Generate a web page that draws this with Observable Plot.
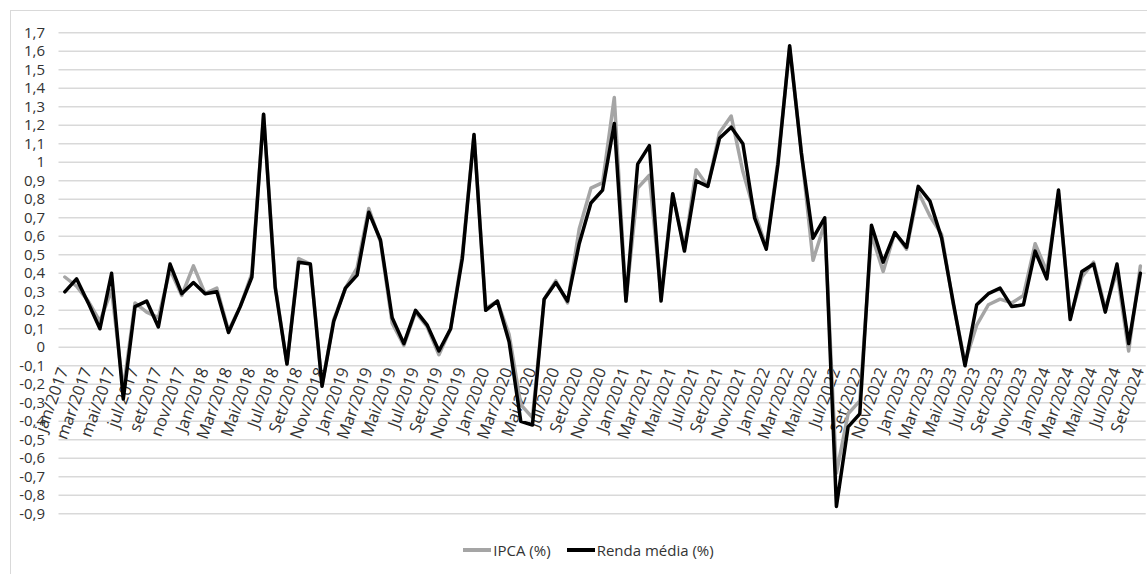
<!DOCTYPE html>
<html lang="pt-BR">
<head>
<meta charset="utf-8">
<script src="https://cdn.jsdelivr.net/npm/d3@7"></script>
<script src="https://cdn.jsdelivr.net/npm/@observablehq/plot@0.6"></script>
<style>
  html, body { margin: 0; padding: 0; background: #fff; overflow: hidden; }
  body { width: 1147px; height: 574px; position: relative; font-family: "Open Sans", sans-serif; color: #333; }
  #frame { position: absolute; left: 10px; top: 10px; width: 1200px; height: 620px; border: 1px solid #d9d9d9; box-sizing: border-box; }
  #chart { position: absolute; left: 0; top: 0; }
  #legend { position: absolute; top: 540px; left: 0; width: 1177px; display: flex; justify-content: center; align-items: center; font-size: 15px; color: #333; }
  .item { display: flex; align-items: center; margin: 0 8px; }
  .swatch { display: inline-block; width: 28px; height: 3.5px; margin-right: 2px; }
</style>
</head>
<body>
<div id="frame"></div>
<div id="chart"></div>
<div id="legend">
  <span class="item"><span class="swatch" style="background:#a5a5a5"></span>IPCA (%)</span>
  <span class="item"><span class="swatch" style="background:#000"></span>Renda média (%)</span>
</div>
<script>
// Month names: 2017 written in lower case, later years capitalised
const months2017 = ["jan","fev","mar","abr","mai","jun","jul","ago","set","out","nov","dez"];
const monthsLater = ["Jan","Fev","Mar","Abr","Mai","Jun","Jul","Ago","Set","Out","Nov","Dez"];
const years = [2017, 2018, 2019, 2020, 2021, 2022, 2023, 2024];
const monthsIn2024 = 9; // series runs to Set/2024

// Monthly IPCA (%)
const ipca = [
  0.38, 0.33, 0.25, 0.14, 0.31, -0.23, 0.24, 0.19, 0.16, 0.42, 0.28, 0.44,
  0.29, 0.32, 0.09, 0.22, 0.40, 1.26, 0.33, -0.09, 0.48, 0.45, -0.21, 0.15,
  0.32, 0.43, 0.75, 0.57, 0.13, 0.01, 0.19, 0.11, -0.04, 0.10, 0.50, 1.15,
  0.21, 0.25, 0.07, -0.31, -0.38, 0.26, 0.36, 0.24, 0.64, 0.86, 0.89, 1.35,
  0.25, 0.86, 0.93, 0.28, 0.83, 0.53, 0.96, 0.87, 1.16, 1.25, 0.95, 0.73,
  0.54, 1.01, 1.62, 1.06, 0.47, 0.67, -0.68, -0.36, -0.29, 0.61, 0.41, 0.62,
  0.53, 0.84, 0.71, 0.61, 0.23, -0.08, 0.12, 0.23, 0.26, 0.24, 0.28, 0.56,
  0.41, 0.83, 0.16, 0.38, 0.46, 0.21, 0.41, -0.02, 0.44
];

// Monthly change in average income (%)
const renda = [
  0.30, 0.37, 0.24, 0.10, 0.40, -0.28, 0.22, 0.25, 0.11, 0.45, 0.29, 0.35,
  0.29, 0.30, 0.08, 0.22, 0.38, 1.26, 0.32, -0.09, 0.46, 0.45, -0.21, 0.14,
  0.32, 0.39, 0.73, 0.58, 0.16, 0.02, 0.20, 0.12, -0.02, 0.10, 0.48, 1.15,
  0.20, 0.25, 0.03, -0.40, -0.42, 0.26, 0.35, 0.25, 0.56, 0.78, 0.85, 1.21,
  0.25, 0.99, 1.09, 0.25, 0.83, 0.52, 0.90, 0.87, 1.13, 1.19, 1.10, 0.70,
  0.53, 0.99, 1.63, 1.05, 0.59, 0.70, -0.86, -0.43, -0.36, 0.66, 0.46, 0.62,
  0.54, 0.87, 0.79, 0.59, 0.24, -0.10, 0.23, 0.29, 0.32, 0.22, 0.23, 0.52,
  0.37, 0.85, 0.15, 0.41, 0.45, 0.19, 0.45, 0.02, 0.40
];

// Category labels "mês/ano"
const categories = [];
for (const y of years) {
  const names = y === 2017 ? months2017 : monthsLater;
  const n = y === 2024 ? monthsIn2024 : 12;
  for (let m = 0; m < n; m++) categories.push(`${names[m]}/${y}`);
}
// Every second month gets a label
const tickLabels = categories.filter((d, i) => i % 2 === 0);
// Value axis ticks, -0,9 … 1,7 in steps of 0,1
const yTicks = d3.range(-9, 18).map(d => d / 10);
const fmt = d => String(Math.round(d * 10) / 10).replace(".", ",");

const rows = categories.map((cat, i) => ({cat, ipca: ipca[i], renda: renda[i]}));

const chart = Plot.plot({
  width: 1147,
  height: 530,
  marginLeft: 58.5,
  marginRight: 1.3,
  marginTop: 32.3,
  marginBottom: 16.7,
  style: {fontFamily: "'Open Sans', sans-serif", fontSize: "15px", color: "#333", background: "transparent", overflow: "visible"},
  x: {type: "point", domain: categories, padding: 0.5, axis: null},
  y: {domain: [-0.9, 1.7], axis: null},
  marks: [
    Plot.gridY(yTicks, {stroke: "#d9d9d9", strokeOpacity: 1, strokeWidth: 1.5}),
    Plot.axisY(yTicks, {tickSize: 0, tickPadding: 14, tickFormat: fmt, fontSize: 15, fill: "#333"}),
    Plot.text(tickLabels, {x: d => d, y: () => 0, text: d => d, rotate: -70, textAnchor: "end", dy: 21, dx: -1, fontSize: 16.5, fill: "#333"}),
    Plot.line(rows, {x: "cat", y: "ipca", stroke: "#a5a5a5", strokeWidth: 3.5, strokeLinejoin: "round"}),
    Plot.line(rows, {x: "cat", y: "renda", stroke: "#000", strokeWidth: 3.5, strokeLinejoin: "round"})
  ]
});
document.getElementById("chart").append(chart);
</script>
</body>
</html>
